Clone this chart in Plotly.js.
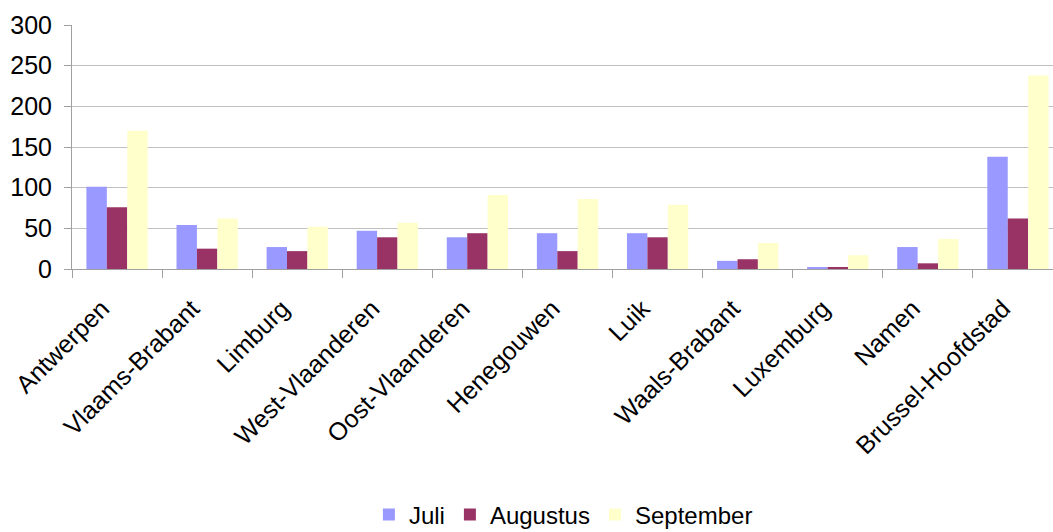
<!DOCTYPE html>
<html>
<head>
<meta charset="utf-8">
<script src="https://cdn.plot.ly/plotly-3.0.1.min.js"></script>
<style>
html, body { margin: 0; padding: 0; overflow: hidden; background: #fff; }
#chart { width: 1063px; height: 532px; }
</style>
</head>
<body>
<div id="chart"></div>
<script>
const categories = ["Antwerpen", "Vlaams-Brabant", "Limburg", "West-Vlaanderen", "Oost-Vlaanderen",
  "Henegouwen", "Luik", "Waals-Brabant", "Luxemburg", "Namen", "Brussel-Hoofdstad"];
const seriesNames = ["Juli", "Augustus", "September"];
const juli = [101, 54, 27, 47, 39, 44, 44, 10, 2.5, 27, 138];
const augustus = [76, 25, 22, 39, 44, 22, 39, 12, 2.5, 7, 62];
const september = [170, 62, 52, 57, 91, 86, 79, 32, 17, 37, 238];
const colors = ["#9999FF", "#993366", "#FFFFCC"];

const values = [juli, augustus, september];
const traces = values.map((v, i) => ({
  type: "bar",
  name: seriesNames[i],
  x: categories,
  y: v,
  marker: { color: colors[i], line: { width: 0 } },
  hoverinfo: "x+y+name"
}));

const fam = "Liberation Sans, Arial, sans-serif";
const font = { family: fam, size: 25, color: "#000" };

const layout = {
  width: 1063,
  height: 532,
  margin: { l: 72, r: 0, t: 25, b: 263 },
  paper_bgcolor: "#fff",
  plot_bgcolor: "#fff",
  font: font,
  barmode: "group",
  bargap: 0.32,
  bargroupgap: 0,
  showlegend: true,
  legend: {
    orientation: "h",
    xref: "container", yref: "container",
    x: 0.53, xanchor: "center",
    y: 0.032, yanchor: "middle",
    font: { family: fam, size: 24, color: "#000" },
    itemwidth: 30,
    tracegroupgap: 0
  },
  xaxis: {
    type: "category",
    tickangle: -45,
    showline: true,
    linecolor: "#a0a0a0",
    linewidth: 1,
    ticks: "outside",
    ticklen: 8,
    tickcolor: "#a0a0a0",
    tickson: "boundaries",
    ticklabelshift: -15,
    ticklabelstandoff: 14,
    showgrid: false,
    tickfont: font,
    fixedrange: true,
    automargin: false
  },
  yaxis: {
    range: [0, 300],
    dtick: 50,
    showline: true,
    linecolor: "#a0a0a0",
    linewidth: 1,
    ticks: "outside",
    ticklen: 7,
    tickcolor: "#a0a0a0",
    ticklabelstandoff: 7,
    showgrid: true,
    gridcolor: "#c0c0c0",
    gridwidth: 1,
    zeroline: false,
    tickfont: font,
    fixedrange: true,
    automargin: false
  }
};

Plotly.newPlot("chart", traces, layout, { displayModeBar: false, staticPlot: true });
</script>
</body>
</html>
